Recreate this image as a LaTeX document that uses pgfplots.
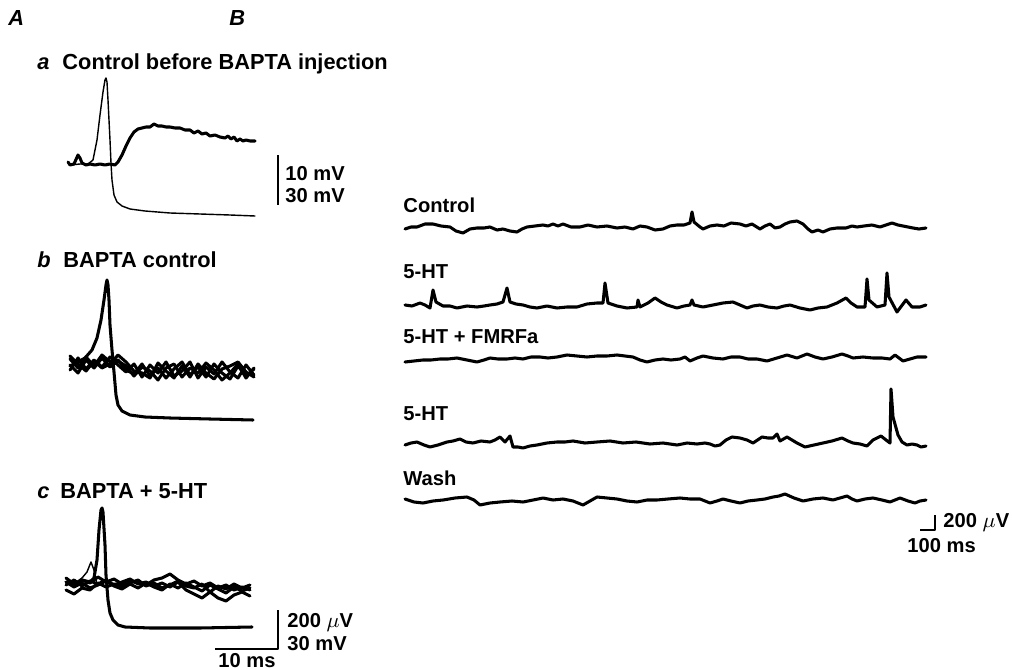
\documentclass[border=0pt]{standalone}
\usepackage{fontspec}
\setmainfont{Liberation Sans}
\usepackage{pgfplots}
\pgfplotsset{compat=1.18}
% picture is laid out in the reference's pixel grid: 1 px = 0.15 mm
\tikzset{
  lab/.style={anchor=base west, inner sep=0pt, font=\bfseries\fontsize{9.3}{11}\selectfont},
  ilab/.style={anchor=base west, inner sep=0pt, font=\bfseries\itshape\fontsize{9.3}{11}\selectfont},
  blab/.style={anchor=base west, inner sep=0pt, font=\bfseries\fontsize{8.6}{10}\selectfont},
  sbl/.style={anchor=base west, inner sep=0pt, font=\bfseries\fontsize{8.6}{10}\selectfont},
}
\begin{document}
\begin{tikzpicture}
\begin{axis}[
  scale only axis, width=151.8mm, height=100.5mm,
  xmin=0, xmax=1012, ymin=0, ymax=670, y dir=reverse,
  hide axis, clip=false,
  every axis plot/.append style={black, no markers, line join=round, line cap=round},
  trace/.style={line width=1.3pt},
  thin trace/.style={line width=0.6pt},
  bar/.style={line width=0.9pt, line cap=butt},
]
% keep the full frame in the bounding box
\path (rel axis cs:0,0) rectangle (rel axis cs:1,1);

% ---------- panel labels
\node[ilab] at (axis cs:8,25) {A};
\node[ilab] at (axis cs:229,25) {B};
\node[ilab] at (axis cs:37,69) {a};
\node[lab] at (axis cs:62,69) {Control before BAPTA injection};
\node[ilab] at (axis cs:37,267) {b};
\node[lab] at (axis cs:63,267) {BAPTA control};
\node[ilab] at (axis cs:37,498) {c};
\node[lab] at (axis cs:60,498) {BAPTA + 5-HT};

% ---------- A a
\addplot[thin trace] coordinates {(70,165) (80,164) (88,164) (93,160) (97,140) (100,115) (103,92) (105,80) (106,78) (107,82) (108,100) (110,140) (111,163) (112,180) (114,195) (117,202) (122,206) (130,209) (145,211) (170,213) (200,214) (230,215) (255,216)};
\addplot[trace] coordinates {(68,162) (70,165) (74,164) (78,155) (80,158) (82,163) (86,165) (90,164) (95,165) (100,164) (105,165) (110,164) (115,165) (118,162) (122,155) (126,146) (130,138) (134,132) (138,129) (142,128) (146,127) (150,127) (154,124) (158,126) (162,126) (166,127) (170,127) (175,128) (180,128) (185,130) (190,130) (194,133) (198,131) (202,134) (206,133) (210,136) (215,135) (220,137) (225,138) (228,136) (231,139) (234,137) (237,141) (240,139) (243,141) (246,140) (250,141) (255,141)};
\addplot[bar] coordinates {(278,155) (278,205)};
\node[sbl] at (axis cs:285,180) {10 mV};
\node[sbl] at (axis cs:285,203) {30 mV};

% ---------- A b
\addplot[trace] coordinates {(70,359) (78,368) (86,357) (94,366) (102,355) (110,362) (118,360) (126,370) (134,374) (142,364) (150,376) (158,368) (166,378) (174,369) (182,362) (190,375) (198,367) (206,377) (214,364) (222,373) (230,379) (238,366) (246,376) (254,369)};
\addplot[trace] coordinates {(70,370) (78,358) (86,369) (94,360) (102,367) (110,357) (118,365) (126,372) (134,364) (142,377) (150,365) (158,373) (166,362) (174,376) (182,371) (190,362) (198,378) (206,367) (214,374) (222,362) (230,372) (238,378) (246,365) (254,375)};
\addplot[trace] coordinates {(70,356) (78,364) (86,371) (94,361) (102,368) (110,364) (118,355) (126,362) (134,371) (142,373) (150,378) (158,363) (166,371) (174,378) (182,366) (190,377) (198,364) (206,373) (214,379) (222,369) (230,366) (238,362) (246,372) (254,377)};
\addplot[trace] coordinates {(70,365) (78,373) (86,360) (94,368) (102,358) (110,367) (118,361) (126,366) (134,376) (142,367) (150,371) (158,380) (166,368) (174,364) (182,377) (190,368) (198,373) (206,363) (214,370) (222,380) (230,373) (238,364) (246,378) (254,368)};
\addplot[trace] coordinates {(70,366) (78,362) (85,358) (92,350) (97,338) (101,320) (104,300) (106,285) (107,280) (108,285) (109,300) (110,325) (112,350) (114,372) (116,395) (118,405) (122,411) (130,415) (145,417) (170,418) (210,419) (253,420)};

% ---------- A c
\addplot[trace] coordinates {(66,578) (74,584) (82,580) (90,583) (98,577) (106,582) (114,579) (122,584) (130,581) (138,583) (146,585) (154,580) (162,578) (170,574) (178,580) (186,584) (194,581) (202,586) (210,583) (218,588) (226,585) (234,590) (242,587) (250,590)};
\addplot[trace] coordinates {(66,585) (74,580) (82,586) (90,581) (98,584) (106,580) (114,585) (122,582) (130,579) (138,584) (146,582) (154,586) (162,583) (170,587) (178,582) (186,590) (194,594) (202,598) (210,592) (218,586) (226,589) (234,584) (242,588) (250,585)};
\addplot[trace] coordinates {(66,590) (74,594) (82,588) (90,590) (98,583) (106,587) (114,584) (122,586) (130,583) (138,580) (146,586) (154,583) (162,588) (170,585) (178,581) (186,586) (194,588) (202,584) (210,592) (218,598) (226,601) (234,595) (242,592) (250,596)};
\addplot[trace] coordinates {(66,582) (74,587) (82,583) (90,588) (98,585) (106,581) (114,586) (122,589) (130,584) (138,588) (146,583) (154,587) (162,590) (170,584) (178,588) (186,583) (194,587) (202,591) (210,585) (218,589) (226,593) (234,587) (242,591) (250,588)};
\addplot[thin trace] coordinates {(75,583) (82,578) (87,572) (91,562) (94,570) (97,584)};
\addplot[trace] coordinates {(66,582) (74,585) (82,580) (90,582) (94,578) (97,560) (99,530) (101,510) (102,508) (103,512) (105,545) (106,575) (108,600) (110,613) (113,620) (118,625) (125,627) (150,628) (200,628) (252,627)};
\addplot[bar] coordinates {(278,610) (278,649) (215,649)};
\node[sbl] at (axis cs:287,627) {200 $\mu$V};
\node[sbl] at (axis cs:287,650) {30 mV};
\node[sbl] at (axis cs:218,667) {10 ms};

% ---------- B
\node[blab] at (axis cs:403,213) {Control};
\addplot[trace] coordinates {(405,229) (411,227) (417,227) (425,224) (433,224) (441,226) (450,227) (456,231) (463,233) (470,229) (477,228) (484,228) (490,227) (497,230) (503,229) (510,231) (517,232) (522,229) (527,227) (535,226) (543,225) (548,226) (553,224) (558,226) (563,224) (571,227) (580,227) (588,225) (597,227) (607,226) (617,228) (625,227) (633,229) (640,226) (647,227) (655,230) (663,229) (670,226) (677,225) (684,225) (690,223) (692,212) (694,222) (700,227) (703,229) (710,226) (717,225) (724,226) (731,223) (740,224) (746,226) (752,224) (760,229) (765,226) (770,224) (775,228) (780,227) (785,224) (790,222) (797,221) (803,224) (808,229) (812,232) (818,230) (823,232) (830,229) (837,228) (846,228) (852,226) (857,227) (864,226) (872,225) (880,227) (886,225) (892,223) (898,225) (903,226) (908,227) (913,228) (919,229) (926,228)};

\node[blab] at (axis cs:403,278) {5-HT};
\addplot[trace] coordinates {(405,305) (412,306) (420,303) (425,305) (430,308) (433,290) (436,302) (443,306) (450,306) (457,308) (467,306) (477,307) (484,306) (490,305) (497,304) (503,302) (507,288) (510,302) (516,304) (523,305) (530,307) (537,308) (547,306) (557,308) (567,307) (577,307) (587,304) (597,303) (603,303) (605,283) (608,303) (617,306) (627,308) (637,307) (638,300) (640,307) (648,303) (655,298) (661,302) (667,305) (677,308) (684,306) (690,305) (692,300) (694,305) (703,307) (713,305) (723,303) (733,302) (740,305) (747,308) (753,306) (760,305) (768,307) (777,308) (784,306) (790,305) (800,308) (810,310) (818,308) (827,307) (837,303) (846,298) (851,303) (857,307) (865,307) (867,279) (869,300) (877,307) (885,305) (887,273) (889,297) (897,312) (906,300) (912,307) (920,307) (926,305)};

\node[blab] at (axis cs:403,343) {5-HT + FMRFa};
\addplot[trace] coordinates {(405,362) (414,361) (423,360) (431,360) (440,359) (448,359) (457,358) (467,360) (477,362) (484,360) (490,358) (498,359) (507,359) (515,358) (523,359) (531,357) (540,357) (548,358) (557,357) (567,355) (577,356) (587,357) (597,356) (607,356) (617,355) (625,356) (633,357) (640,360) (647,362) (655,360) (663,359) (671,360) (680,359) (685,357) (690,361) (697,358) (703,356) (713,358) (723,359) (731,357) (740,357) (748,359) (757,359) (767,361) (777,358) (787,355) (797,358) (807,354) (815,357) (823,359) (832,357) (842,354) (848,356) (853,358) (863,357) (873,358) (882,358) (890,359) (895,355) (903,361) (910,359) (917,357) (926,357)};

\node[blab] at (axis cs:403,420) {5-HT};
\addplot[trace] coordinates {(405,445) (411,443) (417,442) (424,445) (430,447) (438,445) (447,442) (453,441) (460,439) (466,442) (473,443) (481,441) (490,442) (495,440) (500,437) (505,442) (510,436) (513,447) (518,447) (523,448) (530,446) (537,445) (547,443) (557,442) (565,442) (573,441) (585,443) (597,442) (610,441) (623,443) (636,442) (650,444) (663,443) (677,445) (687,443) (697,444) (705,443) (710,444) (715,446) (720,445) (726,440) (732,437) (740,438) (747,440) (753,443) (762,437) (768,438) (773,438) (777,434) (780,441) (787,437) (797,443) (805,447) (814,445) (823,443) (832,441) (842,438) (848,441) (853,443) (860,444) (867,446) (873,440) (881,436) (886,440) (890,443) (891,389) (893,417) (898,435) (902,442) (907,445) (912,444) (917,445) (921,447) (926,446)};

\node[blab] at (axis cs:403,485) {Wash};
\addplot[trace] coordinates {(405,499) (414,502) (423,503) (433,501) (443,500) (455,498) (467,497) (474,500) (480,505) (490,503) (500,502) (512,501) (523,502) (533,500) (543,498) (553,500) (563,499) (573,501) (583,505) (590,501) (597,497) (607,498) (617,499) (627,501) (637,502) (647,500) (657,500) (668,499) (680,498) (690,499) (700,499) (710,503) (717,501) (723,499) (731,501) (740,503) (748,501) (757,500) (765,499) (773,497) (779,496) (785,494) (794,498) (803,501) (813,499) (823,498) (833,500) (840,498) (847,496) (852,499) (857,501) (865,499) (873,498) (882,500) (890,502) (895,500) (900,498) (908,501) (915,503) (920,501) (926,500)};

\addplot[bar] coordinates {(935,515) (935,530) (920,530)};
\node[sbl] at (axis cs:943,527) {200 $\mu$V};
\node[sbl] at (axis cs:907,552) {100 ms};
\end{axis}
\end{tikzpicture}
\end{document}
